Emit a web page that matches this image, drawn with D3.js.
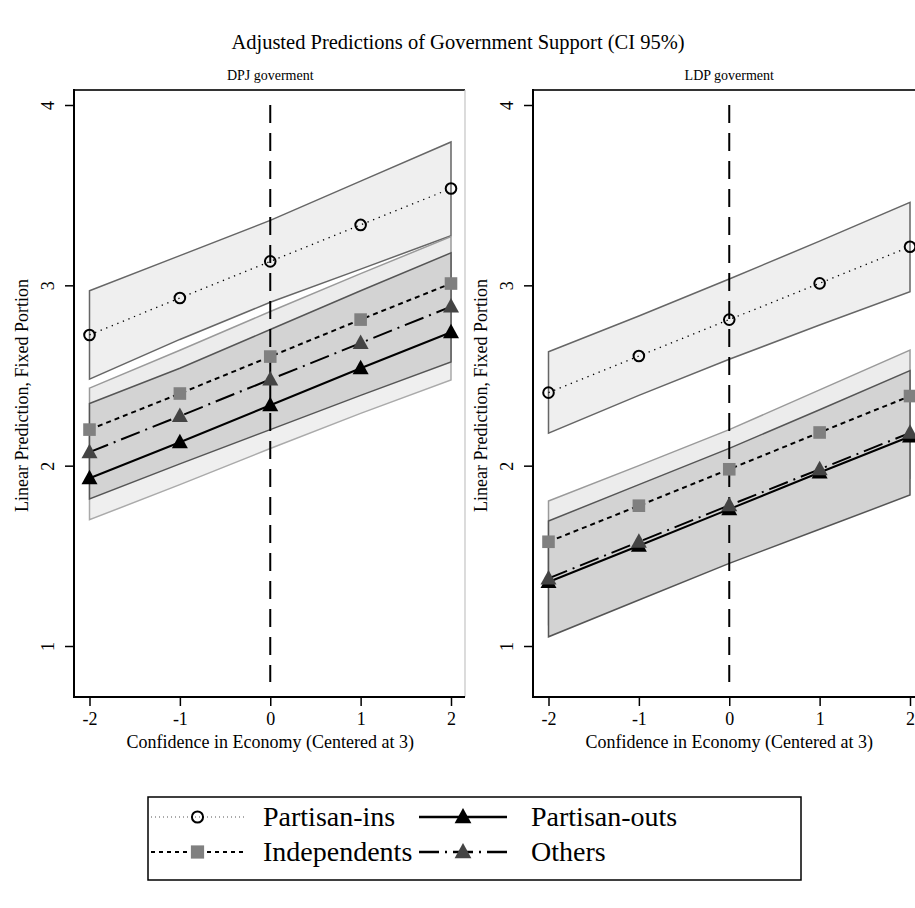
<!DOCTYPE html>
<html>
<head>
<meta charset="utf-8">
<script src="https://cdn.jsdelivr.net/npm/d3@7"></script>
<style>
  html, body { margin: 0; padding: 0; background: #fff; }
  svg { display: block; font-family: "Liberation Serif", "Times New Roman", serif; }
</style>
</head>
<body>
<svg id="chart" width="915" height="908"></svg>
<script>
// x values (confidence in economy, centered at 3) and axis ticks
const xVals = [-2, -1, 0, 1, 2];
const xTicks = [-2, -1, 0, 1, 2];
const yTicks = [1, 2, 3, 4];
const seriesNames = ["Partisan-ins", "Independents", "Partisan-outs", "Others"];
const panelTitles = ["DPJ goverment", "LDP goverment"];
const chartTitle = "Adjusted Predictions of Government Support (CI 95%)";
const xTitle = "Confidence in Economy (Centered at 3)";
const yTitle = "Linear Prediction, Fixed Portion";

// DPJ government: predictions with 95% CI bounds
const dpjIns   = [2.725, 2.93, 3.133, 3.335, 3.537];
const dpjInsLo = [2.48, 2.70, 2.906, 3.09, 3.275];
const dpjInsHi = [2.97, 3.165, 3.36, 3.578, 3.795];
const dpjInd   = [2.20, 2.40, 2.605, 2.81, 3.01];
const dpjIndLo = [1.97, 2.16, 2.355, 2.55, 2.75];
const dpjIndHi = [2.43, 2.64, 2.855, 3.065, 3.27];
const dpjOut   = [1.93, 2.13, 2.335, 2.54, 2.74];
const dpjOutLo = [1.70, 1.895, 2.095, 2.29, 2.475];
const dpjOutHi = [2.16, 2.365, 2.575, 2.79, 3.005];
const dpjOth   = [2.075, 2.275, 2.478, 2.68, 2.882];
const dpjOthLo = [1.815, 2.01, 2.20, 2.39, 2.575];
const dpjOthHi = [2.345, 2.54, 2.755, 2.97, 3.18];

// LDP government: predictions with 95% CI bounds
const ldpIns   = [2.405, 2.608, 2.81, 3.011, 3.214];
const ldpInsLo = [2.18, 2.39, 2.59, 2.78, 2.965];
const ldpInsHi = [2.632, 2.83, 3.035, 3.245, 3.46];
const ldpInd   = [1.578, 1.778, 1.98, 2.184, 2.386];
const ldpIndLo = [1.352, 1.555, 1.76, 1.95, 2.13];
const ldpIndHi = [1.804, 2.00, 2.20, 2.42, 2.641];
const ldpOut   = [1.355, 1.556, 1.759, 1.962, 2.162];
const ldpOutLo = [1.12, 1.33, 1.54, 1.74, 1.93];
const ldpOutHi = [1.59, 1.78, 1.98, 2.18, 2.39];
const ldpOth   = [1.375, 1.578, 1.78, 1.98, 2.182];
const ldpOthLo = [1.051, 1.255, 1.458, 1.647, 1.837];
const ldpOthHi = [1.693, 1.895, 2.096, 2.31, 2.527];

// reference line at x = 0 spans this range of y
const refLineX = 0;
const refLineY = [0.8, 4];

// series styling (line, marker, CI band)
const styles = [
  { dash: "1.3,4.7", width: 1.3, marker: "circle",   mfill: "none",    band: "#efefef", bandStroke: "#666" },
  { dash: "5,4",     width: 2,   marker: "square",   mfill: "#808080", band: "#ececec", bandStroke: "#9a9a9a" },
  { dash: null,      width: 2,   marker: "triangle", mfill: "#000",    band: "#efefef", bandStroke: "#aaa" },
  { dash: "20,6,2,6",width: 2,   marker: "triangle", mfill: "#444",    band: "#d3d3d3", bandStroke: "#555" }
];

const panels = [
  { title: panelTitles[0], left: 74, right: 465, x0: 89.5, x1: 451,
    series: [[dpjIns, dpjInsLo, dpjInsHi], [dpjInd, dpjIndLo, dpjIndHi],
             [dpjOut, dpjOutLo, dpjOutHi], [dpjOth, dpjOthLo, dpjOthHi]] },
  { title: panelTitles[1], left: 533, right: 924, x0: 548.5, x1: 910,
    series: [[ldpIns, ldpInsLo, ldpInsHi], [ldpInd, ldpIndLo, ldpIndHi],
             [ldpOut, ldpOutLo, ldpOutHi], [ldpOth, ldpOthLo, ldpOthHi]] }
];

const svg = d3.select("#chart");
const plotTop = 90, plotBottom = 697;
const y = d3.scaleLinear().domain([1, 4]).range([646, 105]);
const fmt = d => String(d);

svg.append("text")
  .attr("x", 458).attr("y", 49)
  .attr("text-anchor", "middle")
  .style("font-size", "20.5px")
  .text(chartTitle);

function drawMarker(g, kind, cx, cy, fill, scale) {
  const s = scale || 1;
  if (kind === "circle") {
    g.append("circle").attr("cx", cx).attr("cy", cy).attr("r", 5.3 * s)
      .attr("fill", "none").attr("stroke", "#000").attr("stroke-width", 2);
  } else if (kind === "square") {
    const h = 6.3 * s;
    g.append("rect").attr("x", cx - h).attr("y", cy - h)
      .attr("width", 2 * h).attr("height", 2 * h).attr("fill", fill);
  } else {
    const w = 8 * s, hUp = 8.5 * s, hDn = 6 * s;
    g.append("path")
      .attr("d", `M${cx},${cy - hUp}L${cx + w},${cy + hDn}L${cx - w},${cy + hDn}Z`)
      .attr("fill", fill);
  }
}

panels.forEach(p => {
  const x = d3.scaleLinear().domain([-2, 2]).range([p.x0, p.x1]);
  const g = svg.append("g");

  // plot region frame: top edge and faint right edge
  g.append("line").attr("x1", p.left).attr("x2", p.right)
    .attr("y1", plotTop).attr("y2", plotTop)
    .attr("stroke", "#333").attr("stroke-width", 1.8);
  g.append("line").attr("x1", p.right).attr("x2", p.right)
    .attr("y1", plotTop).attr("y2", plotBottom)
    .attr("stroke", "#c4c4c4").attr("stroke-width", 1.2);

  // panel title
  g.append("text").attr("x", x(0)).attr("y", 80)
    .attr("text-anchor", "middle").style("font-size", "14px")
    .text(p.title);

  // CI bands
  const area = d3.area()
    .x((d, i) => x(xVals[i]))
    .y0(d => y(d[0]))
    .y1(d => y(d[1]));
  p.series.forEach((s, k) => {
    const pts = xVals.map((_, i) => [s[1][i], s[2][i]]);
    g.append("path").datum(pts)
      .attr("d", area)
      .attr("fill", styles[k].band)
      .attr("stroke", styles[k].bandStroke)
      .attr("stroke-width", 1.5)
      .attr("stroke-linejoin", "miter");
  });

  // vertical reference line at x = 0
  g.append("line")
    .attr("x1", x(refLineX)).attr("x2", x(refLineX))
    .attr("y1", y(refLineY[1])).attr("y2", y(refLineY[0]))
    .attr("stroke", "#000").attr("stroke-width", 2)
    .attr("stroke-dasharray", "18,10");

  // prediction lines and markers
  const line = d3.line().x((d, i) => x(xVals[i])).y(d => y(d));
  p.series.forEach((s, k) => {
    const st = styles[k];
    g.append("path").datum(s[0])
      .attr("d", line)
      .attr("fill", "none")
      .attr("stroke", "#000")
      .attr("stroke-width", st.width)
      .attr("stroke-dasharray", st.dash)
      .attr("stroke-linecap", "butt");
    s[0].forEach((v, i) => drawMarker(g, st.marker, x(xVals[i]), y(v), st.mfill));
  });

  // y axis
  const yAxis = g.append("g").attr("transform", `translate(${p.left},0)`)
    .call(d3.axisLeft(y).tickValues(yTicks).tickSize(9).tickFormat(fmt));
  yAxis.attr("font-family", null).attr("font-size", null);
  yAxis.select(".domain").remove();
  yAxis.append("line").attr("x1", 0).attr("x2", 0)
    .attr("y1", plotTop - 0.9).attr("y2", plotBottom + 1)
    .attr("stroke", "#000").attr("stroke-width", 2);
  yAxis.selectAll(".tick line").attr("stroke-width", 1.5);
  yAxis.selectAll(".tick text")
    .attr("transform", "rotate(-90)")
    .attr("x", 0).attr("y", -20).attr("dy", 0)
    .attr("text-anchor", "middle")
    .style("font-size", "18px")
    .style("font-family", "'Liberation Serif', serif")
    .attr("fill", "#000");

  // x axis
  const xAxis = g.append("g").attr("transform", `translate(0,${plotBottom})`)
    .call(d3.axisBottom(x).tickValues(xTicks).tickSize(9).tickPadding(6).tickFormat(fmt));
  xAxis.attr("font-family", null).attr("font-size", null);
  xAxis.select(".domain").remove();
  xAxis.append("line").attr("x1", p.left).attr("x2", p.right)
    .attr("y1", 0).attr("y2", 0)
    .attr("stroke", "#000").attr("stroke-width", 2);
  xAxis.selectAll(".tick line").attr("stroke-width", 1.5);
  xAxis.selectAll(".tick text")
    .style("font-size", "18px")
    .style("font-family", "'Liberation Serif', serif")
    .attr("fill", "#000");

  // axis titles
  g.append("text").attr("x", x(0)).attr("y", 748)
    .attr("text-anchor", "middle").style("font-size", "18px")
    .text(xTitle);
  g.append("text")
    .attr("transform", `translate(${p.left - 46},${(plotTop + plotBottom) / 2 + 2}) rotate(-90)`)
    .attr("text-anchor", "middle").style("font-size", "18px")
    .text(yTitle);
});

// legend
const leg = svg.append("g");
leg.append("rect").attr("x", 148).attr("y", 797).attr("width", 653).attr("height", 83)
  .attr("fill", "#fff").attr("stroke", "#000").attr("stroke-width", 1.5);
const legPos = [
  { lx0: 151, lx1: 244, tx: 263, cy: 817 },
  { lx0: 151, lx1: 244, tx: 263, cy: 852 },
  { lx0: 419, lx1: 507, tx: 531, cy: 817 },
  { lx0: 419, lx1: 507, tx: 531, cy: 852 }
];
const legDash = ["1,3", "4,4", null, "20,6,2,6"];
const legWidth = [1, 2, 2.5, 2.5];
seriesNames.forEach((name, k) => {
  const lp = legPos[k];
  leg.append("line").attr("x1", lp.lx0).attr("x2", lp.lx1)
    .attr("y1", lp.cy).attr("y2", lp.cy)
    .attr("stroke", k === 0 ? "#555" : "#000")
    .attr("stroke-width", legWidth[k])
    .attr("stroke-dasharray", legDash[k]);
  drawMarker(leg, styles[k].marker, (lp.lx0 + lp.lx1) / 2, lp.cy, styles[k].mfill, 1.05);
  leg.append("text").attr("x", lp.tx).attr("y", lp.cy + 9)
    .style("font-size", "28px").text(name);
});
</script>
</body>
</html>
